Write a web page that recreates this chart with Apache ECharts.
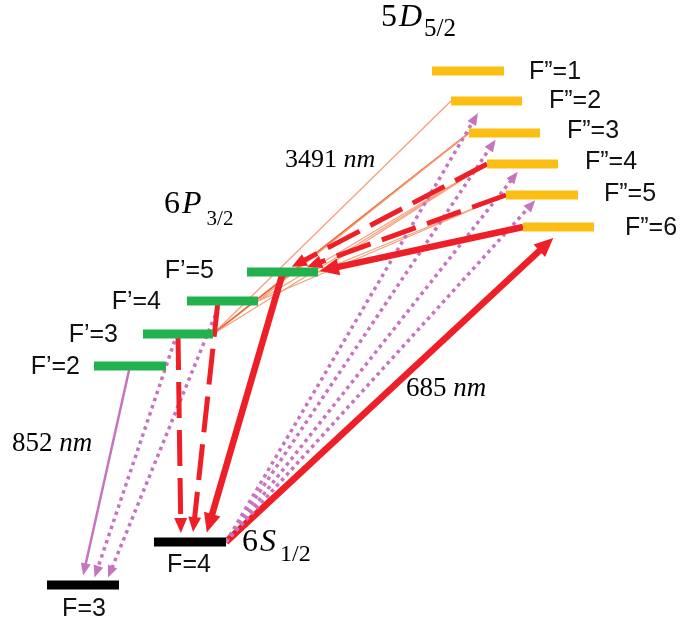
<!DOCTYPE html>
<html><head><meta charset="utf-8">
<script src="https://cdn.jsdelivr.net/npm/echarts@6/dist/echarts.min.js"></script>
<style>html,body{margin:0;padding:0;background:#fff}#c{width:688px;height:625px}</style>
</head><body><div id="c"></div>
<script>
// ---------------- DATA ----------------
// hyperfine levels (horizontal position span and vertical energy position, axis inverted)
const levelNames  = ['F=3','F=4','F’=2','F’=3','F’=4','F’=5','F”=1','F”=2','F”=3','F”=4','F”=5','F”=6'];
const levelState  = ['6S','6S','6P','6P','6P','6P','5D','5D','5D','5D','5D','5D'];
const levelStart  = [47,154,94,143,187,247,432,451,469,487,506,523];
const levelEnd    = [119,226,166,213,258,318,504,522,540,558,578,594];
const levelEnergy = [585,542,366,334,301,272,71,101,133,164,195,227];

// 3491 nm couplings 5D5/2 -> 6P3/2 (thin lines)
const couplingUpper = ['F”=2','F”=3','F”=3','F”=4','F”=4','F”=4','F”=5','F”=5','F”=6'];
const couplingLower = ['F’=3','F’=3','F’=4','F’=3','F’=4','F’=5','F’=4','F’=5','F’=5'];
const couplingKind  = ['light','dark','light','light','light','light','light','light','light'];

// arrows: from level (x on it) -> to level (x on it)
const arrowFrom  = ['F’=2','F’=3','F’=4','F’=3','F’=4','F’=5','F=4','F=4','F=4','F=4','F=4','F”=4','F”=5','F”=6'];
const arrowFromX = [130,177,221,178,218,283,226,226,226,226,226,487,506,523];
const arrowTo    = ['F=3','F=3','F=3','F=4','F=4','F=4','F”=6','F”=2','F”=3','F”=4','F”=5','F’=5','F’=5','F’=5'];
const arrowToX   = [81,92,105,181,192,204,565,485,500,524,540,282,293,315];
const arrowKind  = ['violet','violetDot','violetDot','redDash','redDash','red','red','violetDot','violetDot','violetDot','violetDot','redDash','redDash','red'];

// texts
const stateLabels = [['5','D','5/2'],['6','P','3/2'],['6','S','1/2']];
const wavelengths = ['3491','852','685'];

// ---------------- STYLE / LAYOUT ----------------
const arrowTrim = [10,8,8,9,10,10,16,14,8,10,7,11,15,5];
const RED = '#ee1f26', VIOLET = '#c774bf';
const kindStyle = {
  red:      {color:RED, width:6.5, dash:null, head:[19,17]},
  redDash:  {color:RED, width:5, dash:[36,12], head:[15,13]},
  violet:   {color:VIOLET, width:2.5, dash:null, head:[12,10]},
  violetDot:{color:VIOLET, width:3.5, dash:[3.5,4], head:[12,10]}
};
const stateColor = {'6S':'#000000','6P':'#22b14c','5D':'#fdbe13'};
const couplingStyle = {light:{color:'#f6a07c', width:1.3}, dark:{color:'#ec6636', width:1.6}};
// label layout per level: [anchor x, dy, align]
const labelLayout = [
  [84,24,'center'],[189,23,'center'],
  [80,1,'right'],[118,1,'right'],[161,1,'right'],[214,-1,'right'],
  [529,1,'left'],[549,0,'left'],[567,-2,'left'],[585,-2,'left'],[604,-1,'left'],[625,1,'left']
];

const idx = n => levelNames.indexOf(n);

const levelData = levelNames.map((n,i)=>[levelStart[i], levelEnd[i], levelEnergy[i], i]);
const couplingData = couplingUpper.map((u,i)=>{
  const a = idx(u), b = idx(couplingLower[i]);
  return [levelStart[a], levelEnergy[a], levelEnd[b], levelEnergy[b], i];
});
const arrowData = arrowFrom.map((f,i)=>[arrowFromX[i], levelEnergy[idx(f)], arrowToX[i], levelEnergy[idx(arrowTo[i])], i]);

function renderLevel(params, api){
  const i = api.value(3);
  const a = api.coord([api.value(0), api.value(2)]);
  const b = api.coord([api.value(1), api.value(2)]);
  const h = 9;
  const L = labelLayout[i];
  const lx = api.coord([L[0], api.value(2)])[0];
  return {type:'group', children:[
    {type:'rect', shape:{x:a[0], y:a[1]-h/2, width:b[0]-a[0], height:h}, style:{fill:stateColor[levelState[i]]}},
    {type:'text', x:lx, y:a[1]+L[1], style:{text:levelNames[i], fill:'#111', font:'25px "Liberation Sans", Arial, sans-serif', align:L[2], verticalAlign:'middle'}}
  ]};
}
function renderCoupling(params, api){
  const i = api.value(4);
  const p0 = api.coord([api.value(0), api.value(1)]);
  const p1 = api.coord([api.value(2), api.value(3)]);
  const st = couplingStyle[couplingKind[i]];
  return {type:'line', shape:{x1:p0[0],y1:p0[1],x2:p1[0],y2:p1[1]}, style:{stroke:st.color, lineWidth:st.width}};
}
function renderArrow(params, api){
  const i = api.value(4);
  const p0 = api.coord([api.value(0), api.value(1)]);
  const p1 = api.coord([api.value(2), api.value(3)]);
  const st = kindStyle[arrowKind[i]];
  const dx = p1[0]-p0[0], dy = p1[1]-p0[1], L = Math.hypot(dx,dy);
  const ux = dx/L, uy = dy/L, nx = -uy, ny = ux;
  const t = arrowTrim[i];
  const tip = [p1[0]-ux*t, p1[1]-uy*t];
  const hl = st.head[0], hw = st.head[1];
  const base = [tip[0]-ux*hl, tip[1]-uy*hl];
  const le = [tip[0]-ux*hl*0.75, tip[1]-uy*hl*0.75];
  return {type:'group', children:[
    {type:'polyline', shape:{points:[p0, le]}, style:{stroke:st.color, lineWidth:st.width, lineDash:st.dash, fill:null, lineCap:'butt'}},
    {type:'polygon', shape:{points:[tip,[base[0]+nx*hw/2, base[1]+ny*hw/2],[base[0]-nx*hw/2, base[1]-ny*hw/2]]}, style:{fill:st.color}}
  ]};
}

const serif = '"Liberation Serif","Times New Roman",serif';
const mctx = document.createElement('canvas').getContext('2d');
function textW(t, font){ mctx.font = font; return mctx.measureText(t).width; }
function stateText(lbl, x, y, size, gap1, gap2, dy3, subSize){
  const f1 = size+'px '+serif, f2 = 'italic '+size+'px '+serif, f3 = subSize+'px '+serif;
  const x2 = x + textW(lbl[0], f1) + gap1;
  const x3 = x2 + textW(lbl[1], f2) + gap2;
  return [
    {type:'text', x:x, y:y, style:{text:lbl[0], font:f1, fill:'#000', align:'left', verticalAlign:'middle'}},
    {type:'text', x:x2, y:y, style:{text:lbl[1], font:f2, fill:'#000', align:'left', verticalAlign:'middle'}},
    {type:'text', x:x3, y:y+dy3, style:{text:lbl[2], font:f3, fill:'#000', align:'left', verticalAlign:'middle'}}
  ];
}
function waveText(w, x, y, size){
  return {type:'text', x:x, y:y, style:{text:'{a|'+w+' }{b|nm}', fill:'#000', align:'left', verticalAlign:'middle',
    rich:{a:{font:size+'px '+serif, fill:'#000'}, b:{font:'italic '+size+'px '+serif, fill:'#000'}}}};
}

const chart = echarts.init(document.getElementById('c'), null, {renderer:'canvas'});
chart.setOption({
  animation:false,
  backgroundColor:'#fff',
  grid:{left:0,right:0,top:0,bottom:0},
  xAxis:{type:'value', min:0, max:688, show:false},
  yAxis:{type:'value', min:0, max:625, inverse:true, show:false},
  series:[
    {type:'custom', name:'couplings', renderItem:renderCoupling, data:couplingData, encode:{x:[0,2], y:[1,3]}, z:1, silent:true},
    {type:'custom', name:'transitions', renderItem:renderArrow, data:arrowData, encode:{x:[0,2], y:[1,3]}, z:2, silent:true},
    {type:'custom', name:'levels', renderItem:renderLevel, data:levelData, encode:{x:[0,1], y:2}, z:3, silent:true}
  ],
  graphic:[
    ...stateText(stateLabels[0], 381, 18, 32, 2, 2, 11, 25),
    ...stateText(stateLabels[1], 164, 205, 32, 2, 5, 14, 21),
    ...stateText(stateLabels[2], 242, 543, 32, 2, 4, 12, 24),
    waveText(wavelengths[0], 285, 160, 26),
    waveText(wavelengths[1], 12, 444, 27),
    waveText(wavelengths[2], 406, 389, 27)
  ]
});
</script></body></html>
